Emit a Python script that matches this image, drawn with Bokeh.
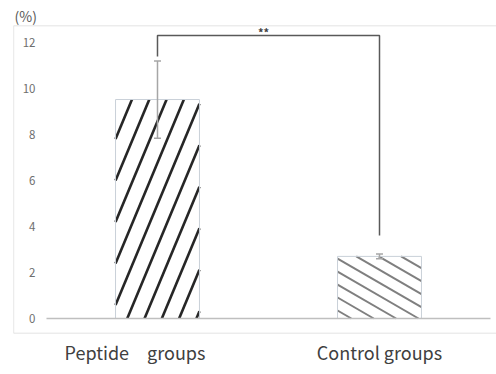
import numpy as np
from bokeh.plotting import figure
from bokeh.models import Range1d, FixedTicker, LinearAxis, Span
from bokeh.core.properties import value
from bokeh.embed import file_html
from bokeh.resources import INLINE

# ---- data ----
categories = ["Peptide\u3000groups\u3000\u3000\u2002", "Control groups"]
means = [9.52, 2.70]
errors = [1.68, 0.10]
y_ticks = [0, 2, 4, 6, 8, 10, 12]
y_tick_labels = ["0", "2", "4", "6", "8", "10", "12"]
sig_y = 12.3
sig_drop = [11.39, 3.61]
sig_label = "**"
unit_label = "(%)"

FONT = "Noto Sans CJK JP"
W, H = 496, 374
BL, BR, BT, BB = 13, 0, 25, 41
x_start, x_end = -0.6486, 1.5270
y_start, y_end = -0.6522, 12.739
bar_w = 0.378

p = figure(width=W, height=H, output_backend="svg", toolbar_location=None,
           x_range=Range1d(x_start, x_end), y_range=Range1d(y_start, y_end),
           min_border_left=BL, min_border_right=BR, min_border_top=BT, min_border_bottom=BB,
           x_axis_location=None, y_axis_location=None)
p.grid.visible = False
p.outline_line_color = None
p.background_fill_color = "white"
p.border_fill_color = "white"

BOX = "#d9d9d9"
p.add_layout(Span(location=y_end, dimension="width", line_color=BOX, line_width=1.3))
p.add_layout(Span(location=y_start, dimension="width", line_color=BOX, line_width=1.3))
p.add_layout(Span(location=x_start, dimension="height", line_color=BOX, line_width=1.3))

p.title.text = unit_label
p.title.text_font = FONT
p.title.text_font_size = "14px"
p.title.text_font_style = "normal"
p.title.text_color = "#595959"
p.title.align = "left"
p.title.standoff = 0
p.title.offset = 1

yaxis = LinearAxis(ticker=FixedTicker(ticks=y_ticks),
                   major_label_overrides={t: l for t, l in zip(y_ticks, y_tick_labels)})
yaxis.axis_line_color = None
yaxis.major_tick_line_color = None
yaxis.minor_tick_line_color = None
yaxis.major_tick_out = 0
yaxis.major_label_standoff = -22
yaxis.major_label_text_font = FONT
yaxis.major_label_text_font_size = "11.5px"
yaxis.major_label_text_color = "#6e6e6e"
p.add_layout(yaxis, "left")

xpos = list(range(len(categories)))
xaxis = LinearAxis(ticker=FixedTicker(ticks=xpos),
                   major_label_overrides={i: c for i, c in zip(xpos, categories)})
xaxis.axis_line_color = None
xaxis.major_tick_line_color = None
xaxis.minor_tick_line_color = None
xaxis.major_tick_out = 0
xaxis.major_label_standoff = 5
xaxis.major_label_text_font = FONT
xaxis.major_label_text_font_size = "18px"
xaxis.major_label_text_color = "#404040"
p.add_layout(xaxis, "below")

fw = W - BL - BR
fh = H - BT - BB
sx = fw / (x_end - x_start)
sy = fh / (y_end - y_start)


def stripes(cx, top, slope, spacing, phase):
    Wp = bar_w * sx
    Hp = top * sy
    left = cx - bar_w / 2
    ext = abs(Hp / slope)
    out = ([], [], [], [])
    kmin = int(np.floor((-ext - phase) / spacing)) - 1
    kmax = int(np.ceil((Wp + ext - phase) / spacing)) + 1
    for k in range(kmin, kmax + 1):
        xk = phase + k * spacing
        ya = slope * (0 - xk)
        yb = slope * (Wp - xk)
        lo = max(0.0, min(ya, yb))
        hi = min(Hp, max(ya, yb))
        if hi - lo > 0.5:
            xa = xk + lo / slope
            xb = xk + hi / slope
            out[0].append(left + xa / sx)
            out[1].append(lo / sy)
            out[2].append(left + xb / sx)
            out[3].append(hi / sy)
    return out

# bars (white fill)
p.vbar(x=xpos, top=means, width=bar_w, fill_color="white", line_color=None)

# hatch stripes
s0 = stripes(xpos[0], means[0], 2.4, 17.3, 11.7)
p.segment(x0=s0[0], y0=s0[1], x1=s0[2], y1=s0[3], line_color="#262626", line_width=2.6)
s1 = stripes(xpos[1], means[1], -0.58, 22.4, 13.8)
p.segment(x0=s1[0], y0=s1[1], x1=s1[2], y1=s1[3], line_color="#7f7f7f", line_width=2.0)

# bar outlines
p.vbar(x=xpos, top=means, width=bar_w, fill_color=None, line_color="#c9d0d8", line_width=1)

# baseline
p.segment(x0=[-0.5], y0=[0], x1=[len(categories) - 0.5], y1=[0], line_color="#bfbfbf", line_width=1.5)

# error bars
lo = [m - e for m, e in zip(means, errors)]
hi = [m + e for m, e in zip(means, errors)]
p.segment(x0=xpos, y0=lo, x1=xpos, y1=hi, line_color="#a6a6a6", line_width=1.5)
p.scatter(x=xpos + xpos, y=lo + hi, marker="dash", size=7, line_color="#a6a6a6", line_width=1.5)

# significance bracket
p.line(x=[xpos[0], xpos[0], xpos[1], xpos[1]], y=[sig_drop[0], sig_y, sig_y, sig_drop[1]],
       line_color="#595959", line_width=1.5)
p.text(x=[(xpos[0] + xpos[1]) / 2], y=[sig_y], text=[sig_label], text_align="center",
       text_baseline="alphabetic", text_font=value(FONT), text_font_size="11px",
       text_font_style="bold", text_color="#404040", x_offset=-5, y_offset=-4)

open("out.html", "w").write(file_html(p, INLINE))
